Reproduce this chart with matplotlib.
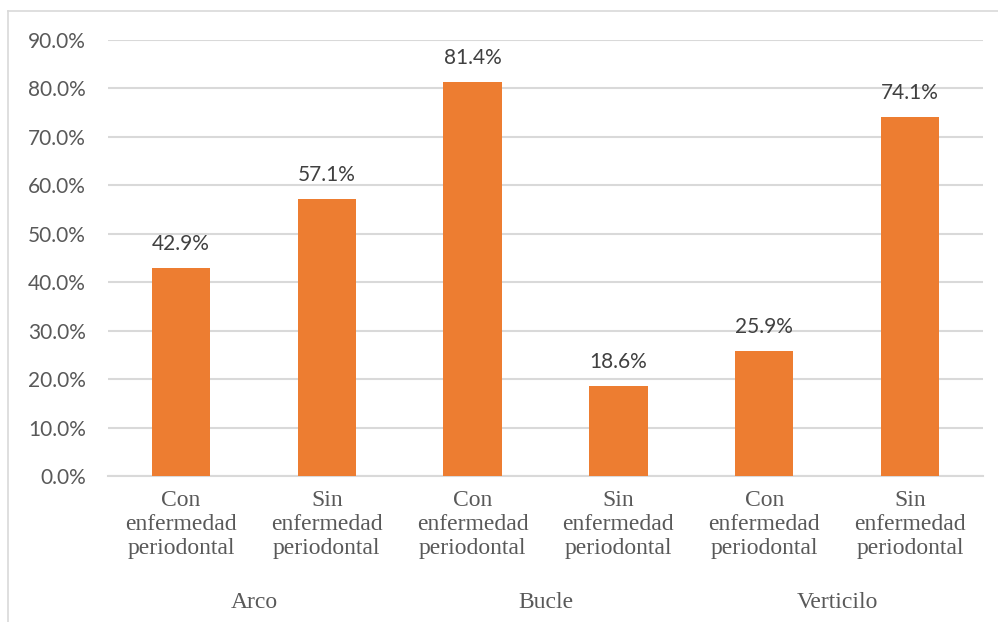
import numpy as np
import matplotlib
matplotlib.use("Agg")
from matplotlib import pyplot as plt
from matplotlib.lines import Line2D

plt.rcParams["font.family"] = ["Liberation Serif", "DejaVu Serif"]

# datos
grupos = ["Arco", "Bucle", "Verticilo"]
categorias = ["Con\nenfermedad\nperiodontal", "Sin\nenfermedad\nperiodontal"] * 3
valores = [42.9, 57.1, 81.4, 18.6, 25.9, 74.1]
yticks = [0, 10, 20, 30, 40, 50, 60, 70, 80, 90]

naranja = "#ED7D31"
gris = "#D9D9D9"
sans = ["Lato", "DejaVu Sans"]

fig = plt.figure(figsize=(9.98, 6.22), dpi=100)
ax = fig.add_axes([108 / 998, 1 - 476 / 622, (983 - 108) / 998, (476 - 40) / 622])

x = np.arange(len(valores))
ax.bar(x, valores, width=0.4, color=naranja, zorder=3)

# etiquetas de datos
for xi, v in zip(x, valores):
    ax.annotate(f"{v:.1f}%", (xi, v), xytext=(0, 10), textcoords="offset points",
                ha="center", va="bottom", fontsize=15, family=sans, color="#404040")

ax.set_xlim(-0.5, len(valores) - 0.5)
ax.set_ylim(0, 90)
ax.set_yticks(yticks)
ax.set_yticklabels([f"{t:.1f}%" for t in yticks], family=sans, fontsize=15, color="#595959")
ax.set_xticks(x)
ax.set_xticklabels(categorias, fontsize=17, color="#595959", linespacing=1.2)
ax.tick_params(axis="both", length=0)
ax.tick_params(axis="x", pad=10)
ax.tick_params(axis="y", pad=16)

ax.grid(axis="y", color=gris, linewidth=1.5, zorder=0)
for s in ["top", "right", "left"]:
    ax.spines[s].set_visible(False)
ax.spines["bottom"].set_color(gris)
ax.spines["bottom"].set_linewidth(1.5)

# nombres de grupo
for i, g in enumerate(grupos):
    ax.text(2 * i + 0.5, -0.291, g, transform=ax.get_xaxis_transform(),
            ha="center", va="center", fontsize=17, color="#595959")

# marco del gráfico
fig.add_artist(Line2D([8 / 998, 8 / 998], [0, 1 - 11 / 622], color=gris, linewidth=1.2,
                      transform=fig.transFigure))
fig.add_artist(Line2D([8 / 998, 1], [1 - 11 / 622, 1 - 11 / 622], color=gris, linewidth=1.2,
                      transform=fig.transFigure))

plt.savefig("out.png", dpi=100)
